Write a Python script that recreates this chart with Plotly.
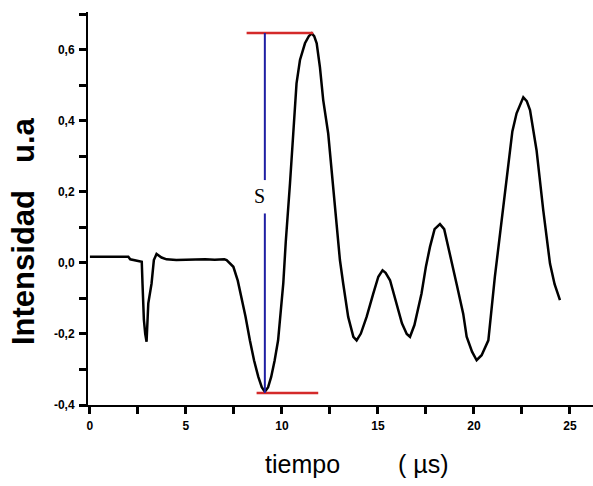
import plotly.graph_objects as go

# ---- data ----
t_us = [0.0, 0.5, 1.0, 1.5, 2.0, 2.1, 2.5, 2.7, 2.74, 2.81, 2.88, 2.95, 3.04, 3.21, 3.33, 3.47,
        3.73, 3.99, 4.5, 5.0, 5.5, 6.0, 6.5, 7.0, 7.12, 7.47, 7.7, 7.9, 8.1, 8.33, 8.55, 8.77,
        8.95, 9.11, 9.28, 9.44, 9.62, 9.8, 9.95, 10.07, 10.2, 10.33, 10.42, 10.59, 10.76, 10.94,
        11.2, 11.4, 11.55, 11.68, 11.81, 11.98, 12.15, 12.41, 12.67, 12.76, 13.02, 13.19, 13.45,
        13.72, 13.89, 14.11, 14.41, 14.76, 15.02, 15.24, 15.4, 15.63, 15.97, 16.25, 16.5, 16.67,
        16.9, 17.1, 17.27, 17.5, 17.71, 17.95, 18.23, 18.45, 18.75, 19.1, 19.44, 19.62, 19.9,
        20.14, 20.4, 20.75, 21.09, 21.4, 21.7, 22.0, 22.22, 22.57, 22.75, 22.92, 23.26, 23.61,
        23.96, 24.2, 24.48]
intensidad = [0.017, 0.017, 0.017, 0.017, 0.017, 0.01, 0.006, 0.003, -0.06, -0.16, -0.2, -0.222,
              -0.114, -0.058, 0.008, 0.025, 0.015, 0.01, 0.008, 0.009, 0.008, 0.01, 0.009, 0.01,
              0.008, -0.011, -0.05, -0.096, -0.15, -0.218, -0.275, -0.321, -0.35, -0.363, -0.35,
              -0.321, -0.275, -0.218, -0.14, -0.058, 0.06, 0.177, 0.224, 0.364, 0.505, 0.571,
              0.618, 0.638, 0.646, 0.638, 0.618, 0.55, 0.458, 0.364, 0.214, 0.177, 0.008, -0.058,
              -0.152, -0.208, -0.218, -0.199, -0.152, -0.086, -0.039, -0.021, -0.028, -0.049,
              -0.114, -0.17, -0.2, -0.208, -0.175, -0.13, -0.086, -0.01, 0.045, 0.095, 0.109,
              0.095, 0.026, -0.06, -0.143, -0.208, -0.25, -0.274, -0.26, -0.218, -0.039, 0.1,
              0.242, 0.37, 0.421, 0.466, 0.455, 0.43, 0.317, 0.148, -0.002, -0.06, -0.105]

# tick positions (major labelled, minor unlabelled)
x_tick_vals = [0, 2.5, 5, 7.5, 10, 12.5, 15, 17.5, 20, 22.5, 25]
x_tick_text = ["0", "", "5", "", "10", "", "15", "", "20", "", "25"]
y_tick_vals = [-0.4, -0.3, -0.2, -0.1, 0.0, 0.1, 0.2, 0.3, 0.4, 0.5, 0.6, 0.7]
y_tick_text = ["-0,4", "", "-0,2", "", "0,0", "", "0,2", "", "0,4", "", "0,6", ""]

# marker "S" (amplitude between trough and peak)
s_x = 9.11
s_top = 0.647
s_bottom = -0.366
s_label_y = 0.188

fig = go.Figure()
fig.add_trace(go.Scatter(x=t_us, y=intensidad, mode="lines",
                         line=dict(color="black", width=2.5), showlegend=False,
                         hoverinfo="skip"))

red = "#d42a2a"
blue = "#1f1fa3"
fig.add_shape(type="line", x0=8.16, x1=11.63, y0=s_top, y1=s_top,
              line=dict(color=red, width=2.5))
fig.add_shape(type="line", x0=8.68, x1=11.89, y0=s_bottom, y1=s_bottom,
              line=dict(color=red, width=2.5))
fig.add_shape(type="line", x0=s_x, x1=s_x, y0=s_top, y1=0.233,
              line=dict(color=blue, width=2))
fig.add_shape(type="line", x0=s_x, x1=s_x, y0=0.139, y1=s_bottom,
              line=dict(color=blue, width=2))
fig.add_annotation(x=8.85, y=s_label_y, text="S", showarrow=False,
                   font=dict(family="Liberation Serif", size=20, color="black"))

tickfont = dict(family="Liberation Sans", size=12, color="black", weight="bold")
axis_common = dict(showline=True, linecolor="#000000", linewidth=2, showgrid=False,
                   zeroline=False, ticks="outside", ticklen=7, tickwidth=2.5,
                   tickcolor="#000000", tickmode="array", tickfont=tickfont, ticklabelstandoff=2)
fig.update_xaxes(range=[-0.1, 26.2], tickvals=x_tick_vals, ticktext=x_tick_text,
                 **axis_common)
fig.update_yaxes(range=[-0.4, 0.706], tickvals=y_tick_vals, ticktext=y_tick_text,
                 **axis_common)

# axis titles (placed as annotations to match spacing of the original)
W, H = 593, 486
L, R, T, B = 88, 0, 12, 81
pw, ph = W - L - R, H - T - B
def px(xp):
    return (xp - L) / pw
def py(yp):
    return (H - B - yp) / ph

title_font_y = dict(family="Liberation Sans", size=31, color="black", weight="bold")
fig.add_annotation(xref="paper", yref="paper", x=px(23), y=py(268), text="Intensidad",
                   textangle=-90, showarrow=False, font=title_font_y,
                   xanchor="center", yanchor="middle")
fig.add_annotation(xref="paper", yref="paper", x=px(23), y=py(140), text="u.a",
                   textangle=-90, showarrow=False, font=title_font_y,
                   xanchor="center", yanchor="middle")
title_font_x = dict(family="Liberation Sans", size=25, color="black")
fig.add_annotation(xref="paper", yref="paper", x=px(302), y=py(464), text="tiempo",
                   showarrow=False, font=title_font_x, xanchor="center", yanchor="middle")
fig.add_annotation(xref="paper", yref="paper", x=px(423), y=py(464), text="( µs)",
                   showarrow=False, font=title_font_x, xanchor="center", yanchor="middle")

fig.update_layout(width=W, height=H, margin=dict(l=L, r=R, t=T, b=B),
                  paper_bgcolor="white", plot_bgcolor="white", showlegend=False)

fig.write_html("out.html")
